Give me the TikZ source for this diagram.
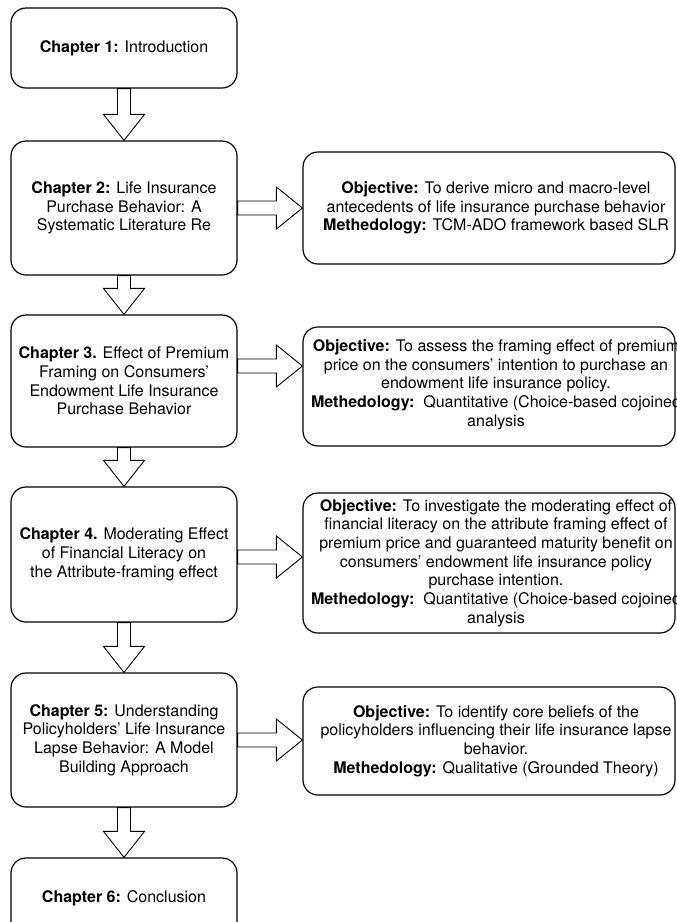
\documentclass[tikz,border=0pt]{standalone}
\usepackage{fontspec}
\setmainfont{TeX Gyre Heros}
\usetikzlibrary{calc}
\tikzset{
  chap/.style={draw=black, line width=1.2pt, rounded corners=15pt, fill=white,
    minimum width=226pt, align=center, inner sep=0pt,
    font=\fontsize{16}{18.7}\selectfont},
  objbox/.style={draw=black, line width=1.2pt, rounded corners=15pt, fill=white,
    minimum width=372pt, inner sep=0pt},
  objtext/.style={align=center, inner sep=0pt,
    font=\fontsize{16}{18.7}\selectfont},
  blockarrow/.style={draw=black, line width=0.9pt, fill=white, line join=miter},
}
% down block arrow from node #1 to node #2
\newcommand\downblock[2]{%
  \draw[blockarrow] let \p1=(#1.south), \p2=(#2.north) in
    (\x1-6.5pt,\y1) -- (\x1+6.5pt,\y1) -- (\x1+6.5pt,\y2+26pt) --
    (\x1+20.5pt,\y2+26pt) -- (\x1,\y2) -- (\x1-20.5pt,\y2+26pt) --
    (\x1-6.5pt,\y2+26pt) -- cycle;}
% right block arrow from node #1 to node #2 at the height of coordinate #3
\newcommand\rightblock[3]{%
  \draw[blockarrow] let \p1=(#1.east), \p2=(#2.west), \p3=(#3) in
    (\x1,\y3+7pt) -- (\x2-26pt,\y3+7pt) -- (\x2-26pt,\y3+21pt) --
    (\x2,\y3) -- (\x2-26pt,\y3-21pt) -- (\x2-26pt,\y3-7pt) --
    (\x1,\y3-7pt) -- cycle;}
\begin{document}
\begin{tikzpicture}[x=1pt, y=-1pt]
\useasboundingbox (0,0) rectangle (677,922);
\fill[white] (0,0) rectangle (677,922);
\clip (0,0) rectangle (677,922);

% chapter boxes
\node[chap, minimum height=80pt]  (c1) at (124,48)    {\textbf{Chapter 1:} Introduction};
\node[chap, minimum height=134pt] (c2) at (124,208)   {\textbf{Chapter 2:} Life Insurance\\Purchase Behavior: A\\Systematic Literature Re};
\node[chap, minimum height=132pt] (c3) at (124,381)   {\textbf{Chapter 3.} Effect of Premium\\Framing on Consumers’\\Endowment Life Insurance\\Purchase Behavior};
\node[chap, minimum height=135pt] (c4) at (124,554.5) {\textbf{Chapter 4.} Moderating Effect\\of Financial Literacy on\\the Attribute-framing effect};
\node[chap, minimum height=134pt] (c5) at (124,740)   {\textbf{Chapter 5:} Understanding\\Policyholders’ Life Insurance\\Lapse Behavior: A Model\\Building Approach};
\node[chap, minimum height=80pt]  (c6) at (124,898)   {\textbf{Chapter 6:} Conclusion};

% objective boxes
\node[objbox, minimum height=112pt] (r1) at (489,208)   {};
\node[objbox, minimum height=119pt] (r2) at (489,386.5) {};
\node[objbox, minimum height=140pt] (r3) at (489,563)   {};
\node[objbox, minimum height=108pt] (r4) at (489,741)   {};

\node[objtext] (r1t) at ($(r1.center)+(7,0)$) {\textbf{Objective:} To derive micro and macro-level\\antecedents of life insurance purchase behavior\\\textbf{Methedology:} TCM-ADO framework based SLR};
\node[objtext] (r2t) at ($(r2.center)+(7,-2)$) {\textbf{Objective:} To assess the framing effect of premium\\price on the consumers’ intention to purchase an\\endowment life insurance policy.\\\textbf{Methedology:}\ \ Quantitative (Choice-based cojoined\\analysis};
\node[objtext] (r3t) at ($(r3.center)+(7,0)$) {\textbf{Objective:} To investigate the moderating effect of\\financial literacy on the attribute framing effect of\\premium price and guaranteed maturity benefit on\\consumers’ endowment life insurance policy\\purchase intention.\\\textbf{Methedology:}\ \ Quantitative (Choice-based cojoined\\analysis};
\node[objtext] (r4t) at ($(r4.center)+(7,0)$) {\textbf{Objective:} To identify core beliefs of the\\policyholders influencing their life insurance lapse\\behavior.\\\textbf{Methedology:} Qualitative (Grounded Theory)};

% arrow heights
\coordinate (h2) at (0,208);
\coordinate (h3) at (0,366);
\coordinate (h4) at (0,557);
\coordinate (h5) at (0,740);

% down arrows
\downblock{c1}{c2}
\downblock{c2}{c3}
\downblock{c3}{c4}
\downblock{c4}{c5}
\downblock{c5}{c6}

% right arrows
\rightblock{c2}{r1}{h2}
\rightblock{c3}{r2}{h3}
\rightblock{c4}{r3}{h4}
\rightblock{c5}{r4}{h5}
\end{tikzpicture}
\end{document}
